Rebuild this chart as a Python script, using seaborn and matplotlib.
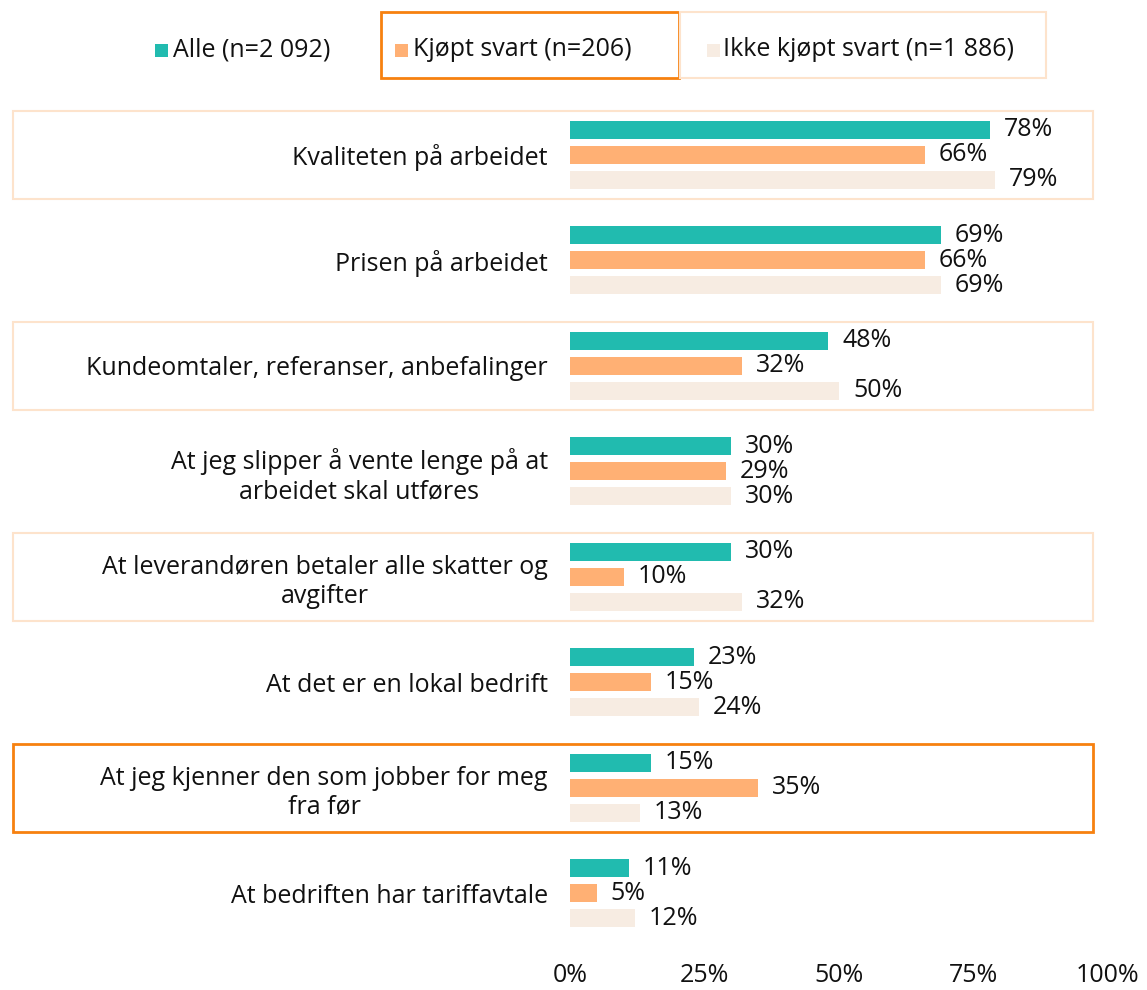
import matplotlib
matplotlib.use("Agg")
import matplotlib.pyplot as plt
import seaborn as sns
import pandas as pd
from matplotlib.patches import Rectangle
from matplotlib.transforms import blended_transform_factory

categories = [
    "Kvaliteten på arbeidet",
    "Prisen på arbeidet",
    "Kundeomtaler, referanser, anbefalinger",
    "At jeg slipper å vente lenge på at\narbeidet skal utføres",
    "At leverandøren betaler alle skatter og\navgifter",
    "At det er en lokal bedrift",
    "At jeg kjenner den som jobber for meg\nfra før",
    "At bedriften har tariffavtale",
]
series_names = ["Alle (n=2 092)", "Kjøpt svart (n=206)", "Ikke kjøpt svart (n=1 886)"]
alle = [78, 69, 48, 30, 30, 23, 15, 11]
kjopt = [66, 66, 32, 29, 10, 15, 35, 5]
ikke = [79, 69, 50, 30, 32, 24, 13, 12]
x_ticks = [0, 25, 50, 75, 100]
x_tick_labels = ["0%", "25%", "50%", "75%", "100%"]

colors = ["#21BBAF", "#FFB074", "#F7ECE2"]
light_border = "#FDE3CC"
dark_border = "#F7810F"

rows = []
for name, vals in zip(series_names, [alle, kjopt, ikke]):
    for c, v in zip(categories, vals):
        rows.append({"kategori": c, "serie": name, "verdi": v})
df = pd.DataFrame(rows)

sns.set_style("white")
plt.rcParams["font.family"] = ["Open Sans", "DejaVu Sans"]
FS = 18

W, H = 1147, 990
fig = plt.figure(figsize=(W / 100, H / 100), dpi=100)
ax = fig.add_axes([570 / W, 1 - 946 / H, (1108 - 570) / W, (946 - 102) / H])
ax.set_facecolor("none")

sns.barplot(data=df, y="kategori", x="verdi", hue="serie", orient="h",
            palette=colors, width=0.71, gap=0.28, ax=ax, legend=False,
            linewidth=0, saturation=1)

ax.set_xlim(0, 100)
ax.set_ylim(len(categories) - 0.5, -0.5)
ax.set_xlabel("")
ax.set_ylabel("")
for s in ax.spines.values():
    s.set_visible(False)
ax.set_xticks(x_ticks)
ax.set_xticklabels(x_tick_labels, fontsize=FS, color="#111111")
ax.tick_params(axis="x", length=0, pad=12)
ax.set_yticks(range(len(categories)))
ax.set_yticklabels(categories, fontsize=FS, multialignment="center", color="#111111")
ax.tick_params(axis="y", length=0, pad=16)
ax.grid(False)

# value labels
for cont in ax.containers:
    ax.bar_label(cont, labels=[f"{int(v)}%" for v in cont.datavalues],
                 padding=10, fontsize=FS, color="#111111")

# category boxes
trans = blended_transform_factory(fig.transFigure, ax.transData)
for i, col, lw in [(0, light_border, 1.5), (2, light_border, 1.5), (4, light_border, 1.5), (6, dark_border, 2)]:
    r = Rectangle((13 / W, i - 0.417), (1093 - 13) / W, 0.834, transform=trans,
                  fill=False, edgecolor=col, linewidth=lw, clip_on=False, zorder=0)
    fig.add_artist(r)

# legend
ly = 1 - 50 / H
sq = 13
items = [(155, 173), (395, 413), (707, 723)]
for (sx, tx), name, c in zip(items, series_names, colors):
    fig.add_artist(Rectangle((sx / W, ly - (sq / 2) / H), sq / W, sq / H,
                             transform=fig.transFigure, facecolor=c, edgecolor="none"))
    fig.text(tx / W, ly, name, fontsize=FS, va="center", ha="left", color="#111111")
fig.add_artist(Rectangle((381 / W, 1 - 78 / H), (679 - 381) / W, 66 / H,
                         transform=fig.transFigure, fill=False, edgecolor=dark_border, linewidth=2))
fig.add_artist(Rectangle((680 / W, 1 - 78 / H), (1046 - 680) / W, 66 / H,
                         transform=fig.transFigure, fill=False, edgecolor=light_border, linewidth=1.5))

fig.savefig("out.png", dpi=100, facecolor="white")
